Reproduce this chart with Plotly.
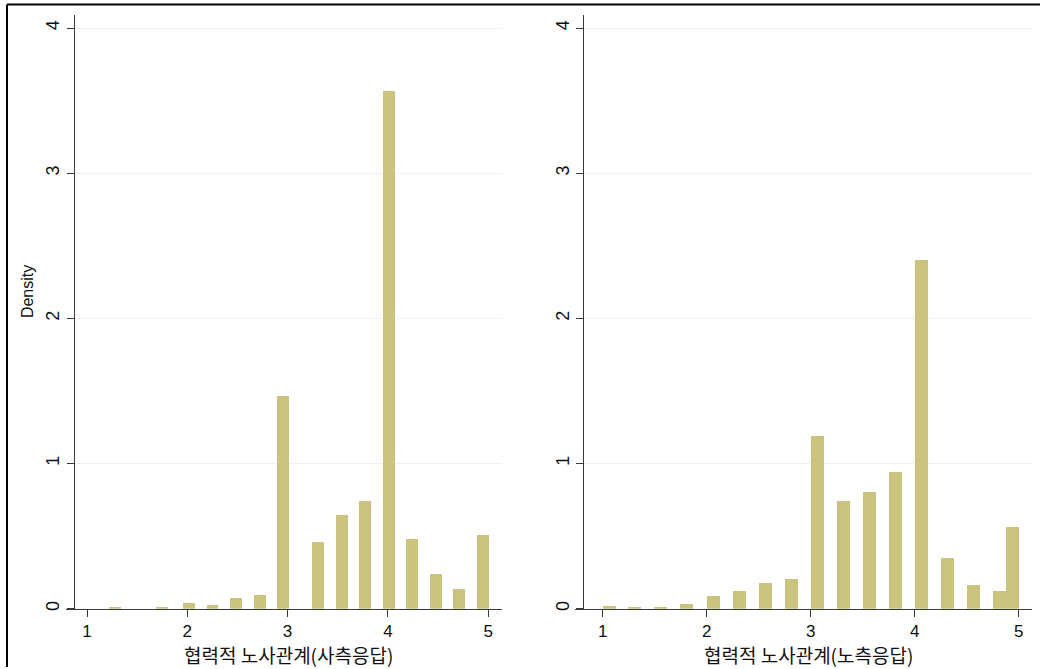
import plotly.graph_objects as go

W, H = 1040, 669

# Left panel: 협력적 노사관계(사측응답)
x_left = [1.28, 1.745, 2.014, 2.251, 2.487, 2.723, 2.956, 3.306, 3.539, 3.772, 4.009, 4.242, 4.480, 4.712, 4.950]
dens_left = [0.006, 0.006, 0.036, 0.027, 0.075, 0.094, 1.466, 0.458, 0.648, 0.742, 3.567, 0.479, 0.236, 0.137, 0.509]

# Right panel: 협력적 노사관계(노측응답)
x_right = [1.063, 1.31, 1.56, 1.81, 2.067, 2.313, 2.565, 2.813, 3.064, 3.314, 3.564, 3.814, 4.062, 4.315, 4.564, 4.814, 4.939]
dens_right = [0.022, 0.005, 0.005, 0.030, 0.090, 0.120, 0.180, 0.205, 1.191, 0.740, 0.806, 0.939, 2.400, 0.348, 0.165, 0.122, 0.566]

x_ticks = [1, 2, 3, 4, 5]
y_ticks = [0, 1, 2, 3, 4]
title_left = "협력적 노사관계(사측응답)"
title_right = "협력적 노사관계(노측응답)"
y_title = "Density"

BAR = "rgb(203,196,126)"
AX = "#3a3a3a"
FONT = "Arial, 'Liberation Sans', 'Noto Sans CJK KR', sans-serif"
KFONT = "'Noto Sans CJK KR', 'Liberation Sans', sans-serif"

def px(v):
    return v / W

def py(v):
    return 1 - v / H

fig = go.Figure()
fig.add_trace(go.Bar(x=x_left, y=dens_left, width=[0.117] * len(x_left),
                     marker=dict(color=BAR, line=dict(width=0)),
                     xaxis="x", yaxis="y", showlegend=False, hoverinfo="skip"))
fig.add_trace(go.Bar(x=x_right, y=dens_right, width=[0.125] * len(x_right),
                     marker=dict(color=BAR, line=dict(width=0)),
                     xaxis="x2", yaxis="y2", showlegend=False, hoverinfo="skip"))

y_bottom = 610.5
y_top = 15
y_scale = 145.6
ydom = [py(y_bottom), py(y_top)]
yrange = [0, (y_bottom - y_top) / y_scale]

common_x = dict(showline=True, linecolor=AX, linewidth=1.2, ticks="outside", ticklen=7,
                tickcolor=AX, tickwidth=1.2, tickvals=x_ticks, showgrid=False, zeroline=False,
                tickfont=dict(family=FONT, size=17, color="#111"), ticklabelstandoff=0)
common_y = dict(showline=True, linecolor=AX, linewidth=1.2, ticks="outside", ticklen=7,
                tickcolor=AX, tickwidth=1.2, tickvals=y_ticks, tickangle=-90,
                showgrid=True, gridcolor="#f1f1f1", gridwidth=1, zeroline=False,
                tickfont=dict(family=FONT, size=18, color="#111"), ticklabelstandoff=0,
                range=yrange, domain=ydom, anchor="free")

# left: tick 1 at 87px, 100.3 px/unit; axis line 66..502
lx0, lx1 = 66, 502
l_scale, l_one = 100.3, 87
# right: tick 1 at 602.7px, 104 px/unit; axis line 575..1031.7
rx0, rx1 = 575, 1031.7
r_scale, r_one = 104.0, 602.7

annotations = [
    dict(text=title_left, xref="paper", yref="paper", x=px(288), y=py(656.5),
         xanchor="center", yanchor="middle", showarrow=False,
         font=dict(family=KFONT, size=19, color="#111")),
    dict(text=title_right, xref="paper", yref="paper", x=px(808), y=py(656.5),
         xanchor="center", yanchor="middle", showarrow=False,
         font=dict(family=KFONT, size=19, color="#111")),
    dict(text=y_title, xref="paper", yref="paper", x=px(27), y=py(293),
         xanchor="center", yanchor="middle", showarrow=False, textangle=-90,
         font=dict(family=FONT, size=16, color="#111")),
]

fig.update_layout(
    width=W, height=H,
    margin=dict(l=0, r=0, t=0, b=0),
    paper_bgcolor="white", plot_bgcolor="white",
    bargap=0,
    xaxis=dict(common_x, domain=[px(lx0), px(lx1)],
               range=[1 + (lx0 - l_one) / l_scale, 1 + (lx1 - l_one) / l_scale],
               anchor="y"),
    yaxis=dict(common_y, position=px(73.7)),
    xaxis2=dict(common_x, domain=[px(rx0), px(rx1)],
                range=[1 + (rx0 - r_one) / r_scale, 1 + (rx1 - r_one) / r_scale],
                anchor="y2"),
    yaxis2=dict(common_y, position=px(583.3)),
    annotations=annotations,
    shapes=[
        dict(type="line", xref="paper", yref="paper", x0=px(7), x1=1, y0=py(4.5), y1=py(4.5),
             line=dict(color="black", width=2)),
        dict(type="line", xref="paper", yref="paper", x0=px(7), x1=px(7), y0=0, y1=py(4.5),
             line=dict(color="black", width=2)),
    ],
)

fig.write_html("out.html", config=dict(displayModeBar=False),
               post_script="document.body.style.margin='0';document.body.style.overflow='hidden';")
